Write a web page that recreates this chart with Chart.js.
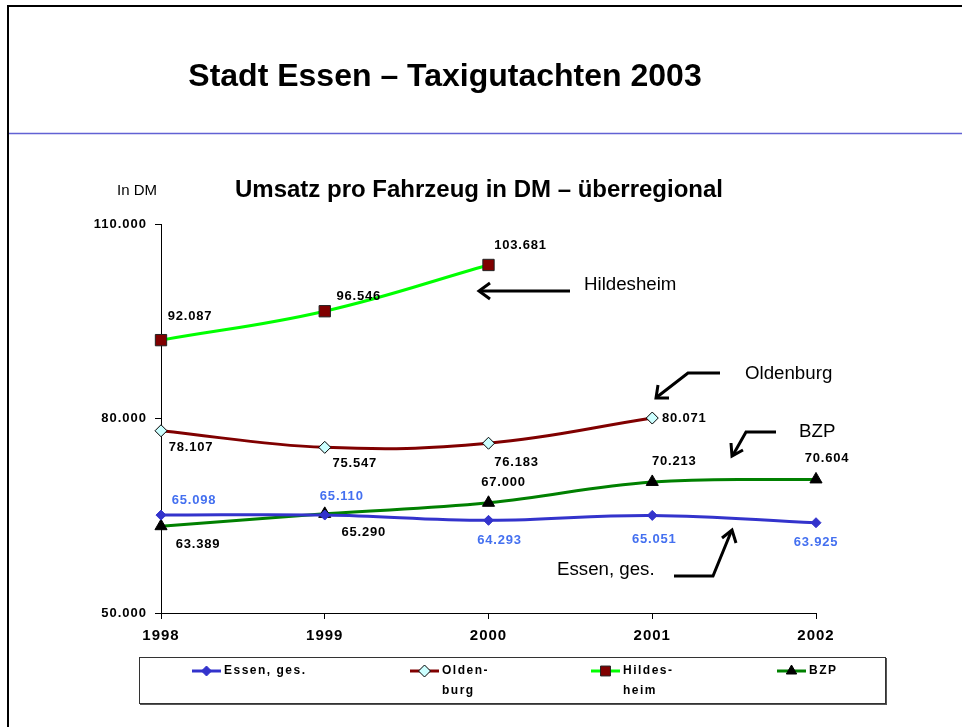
<!DOCTYPE html>
<html><head><meta charset="utf-8">
<script src="https://cdn.jsdelivr.net/npm/chart.js@4.4.1/dist/chart.umd.min.js"></script>
<style>
html,body{margin:0;padding:0;background:#fff;}
#wrap{position:relative;width:962px;height:727px;overflow:hidden;font-family:"Liberation Sans",Arial,sans-serif;background:#fff;}
#c{position:absolute;left:0;top:0;}
svg{position:absolute;left:0;top:0;}
.t{position:absolute;white-space:nowrap;line-height:1;transform:translate(-50%,-50%);color:#000;}
.l{position:absolute;white-space:nowrap;line-height:1;transform:translate(0,-50%);color:#000;}
</style></head><body>
<div id="wrap">
<canvas id="c" width="962" height="727"></canvas>
<svg width="962" height="727" viewBox="0 0 962 727">
  <line x1="8" y1="5" x2="8" y2="727" stroke="#000" stroke-width="2"/>
  <line x1="7" y1="6" x2="962" y2="6" stroke="#000" stroke-width="2"/>
  <line x1="9" y1="133.5" x2="962" y2="133.5" stroke="#6262d4" stroke-width="1.5"/>
  <g stroke="#000" stroke-width="3" fill="none" stroke-linecap="butt" stroke-linejoin="miter">
    <polyline points="570,291 479,291"/>
    <polyline points="490,283 479,291 490,299"/>
    <polyline points="720,373 688,373 657,397"/>
    <polyline points="658,385 656,398 669,398"/>
    <polyline points="776,432 746,432 733,455"/>
    <polyline points="731,443 732,456 743,450"/>
    <polyline points="674,576 713,576 731,532"/>
    <polyline points="722,538 732,530 736,543"/>
  </g>
</svg>
<div class="t" style="left:445px;top:75px;font-weight:bold;font-size:32px;">Stadt Essen – Taxigutachten 2003</div>
<div class="t" style="left:479px;top:189px;font-weight:bold;font-size:24px;">Umsatz pro Fahrzeug in DM – überregional</div>
<div class="l" style="left:117px;top:189px;font-size:15px;">In DM</div>
<div class="l" style="left:584px;top:284px;font-size:18.7px;">Hildesheim</div>
<div class="l" style="left:745px;top:373px;font-size:18.7px;">Oldenburg</div>
<div class="l" style="left:799px;top:431px;font-size:18.7px;">BZP</div>
<div class="l" style="left:557px;top:569px;font-size:18.7px;">Essen, ges.</div>
</div>
<script>
// ---- data ----
const years = ['1998', '1999', '2000', '2001', '2002'];
const seriesNames = ['Essen, ges.', 'Oldenburg', 'Hildesheim', 'BZP'];
const legendLines = [['Essen, ges.'], ['Olden-', 'burg'], ['Hildes-', 'heim'], ['BZP']];
const essen = [65098, 65110, 64293, 65051, 63925];
const oldenburg = [78107, 75547, 76183, 80071, null];
const hildesheim = [92087, 96546, 103681, null, null];
const bzp = [63389, 65290, 67000, 70213, 70604];
const yTickValues = [50000, 80000, 110000];

// ---- styles (label offsets relative to points) ----
const labelOffsets = [
  [[33, -15], [17, -19], [11, 20], [2, 24], [0, 20]],
  [[30, 17], [30, 16], [28, 19], [32, 0]],
  [[29, -24], [34, -15], [32, -20]],
  [[37, 18], [39, 19], [15, -20], [22, -21], [11, -21]]
];
const labelColors = ['#4470f0', '#000', '#000', '#000'];
const legendX = [192, 410, 591, 777];

const FONT = "'Liberation Sans', Arial, sans-serif";
function fmt(v) {
  return Math.floor(v / 1000) + '.' + String(v % 1000).padStart(3, '0');
}

const spacingPlugin = {
  id: 'spacing',
  beforeDraw(chart) { chart.ctx.letterSpacing = '1px'; },
  afterDraw(chart) { chart.ctx.letterSpacing = '0px'; }
};

const labelPlugin = {
  id: 'vlabels',
  afterDatasetsDraw(chart) {
    const ctx = chart.ctx;
    ctx.save();
    ctx.letterSpacing = '0.8px';
    ctx.font = 'bold 13px ' + FONT;
    ctx.textAlign = 'center';
    ctx.textBaseline = 'middle';
    chart.data.datasets.forEach((ds, i) => {
      const meta = chart.getDatasetMeta(i);
      meta.data.forEach((pt, j) => {
        const v = ds.data[j];
        if (v === null || v === undefined) return;
        const off = labelOffsets[i][j] || [0, -15];
        ctx.fillStyle = labelColors[i];
        ctx.fillText(fmt(v), pt.x + off[0], pt.y + off[1]);
      });
    });
    ctx.restore();
  }
};

const legendPlugin = {
  id: 'customLegend',
  afterDraw(chart) {
    const ctx = chart.ctx;
    ctx.save();
    ctx.letterSpacing = '1.5px';
    // shadow + box
    ctx.fillStyle = '#555';
    ctx.fillRect(140, 658, 747, 47);
    ctx.fillStyle = '#fff';
    ctx.fillRect(139, 657, 746, 46);
    ctx.strokeStyle = '#333';
    ctx.lineWidth = 1;
    ctx.strokeRect(139.5, 657.5, 746, 46);
    ctx.font = 'bold 12px ' + FONT;
    ctx.textAlign = 'left';
    ctx.textBaseline = 'middle';
    chart.data.datasets.forEach((ds, i) => {
      const x0 = legendX[i];
      const y = 671;
      ctx.strokeStyle = ds.borderColor;
      ctx.lineWidth = 3;
      ctx.beginPath();
      ctx.moveTo(x0, y);
      ctx.lineTo(x0 + 29, y);
      ctx.stroke();
      ctx.fillStyle = ds.pointBackgroundColor;
      ctx.strokeStyle = ds.pointBorderColor;
      ctx.lineWidth = ds.pointBorderWidth;
      Chart.helpers.drawPoint(ctx, {
        pointStyle: ds.pointStyle,
        radius: ds.legendRadius,
        rotation: 0,
        borderWidth: ds.pointBorderWidth
      }, x0 + 14.5, y);
      ctx.fillStyle = '#000';
      legendLines[i].forEach((line, k) => {
        ctx.fillText(line, x0 + 32, y + k * 20);
      });
    });
    ctx.restore();
  }
};

const datasets = [
  { label: seriesNames[0], data: essen, borderColor: '#3333cc', pointBackgroundColor: '#3333cc',
    pointBorderColor: '#3333cc', pointBorderWidth: 1, pointStyle: 'rectRot', pointRadius: 5, legendRadius: 5 },
  { label: seriesNames[1], data: oldenburg, borderColor: '#800000', pointBackgroundColor: '#ccffff',
    pointBorderColor: '#000', pointBorderWidth: 1, pointStyle: 'rectRot', pointRadius: 6, legendRadius: 6 },
  { label: seriesNames[2], data: hildesheim, borderColor: '#00ff00', pointBackgroundColor: '#800000',
    pointBorderColor: '#222', pointBorderWidth: 1, pointStyle: 'rect', pointRadius: 8, legendRadius: 7 },
  { label: seriesNames[3], data: bzp, borderColor: '#008000', pointBackgroundColor: '#000',
    pointBorderColor: '#000', pointBorderWidth: 1, pointStyle: 'triangle', pointRadius: 7, legendRadius: 6 }
].map(d => Object.assign({ borderWidth: 3, tension: 0.4, fill: false, clip: false, spanGaps: false,
  pointHoverRadius: d.pointRadius }, d));

new Chart(document.getElementById('c'), {
  type: 'line',
  data: { labels: years, datasets: datasets },
  options: {
    responsive: false,
    animation: false,
    events: [],
    layout: { padding: { left: 0, top: 224, right: 146, bottom: 0 } },
    plugins: { legend: { display: false }, title: { display: false }, tooltip: { enabled: false } },
    scales: {
      x: {
        type: 'category',
        offset: false,
        afterFit(s) { s.height = 114; },
        grid: { display: true, drawOnChartArea: false, drawTicks: true, tickLength: 6, color: '#000', lineWidth: 1 },
        border: { display: true, color: '#000', width: 1 },
        ticks: { color: '#000', font: { family: FONT, size: 15, weight: 'bold' }, padding: 8, maxRotation: 0, autoSkip: false }
      },
      y: {
        min: 50000, max: 110000,
        afterFit(s) { s.width = 161; },
        afterBuildTicks(s) { s.ticks = yTickValues.map(v => ({ value: v })); },
        grid: { display: true, drawOnChartArea: false, drawTicks: true, tickLength: 6, color: '#000', lineWidth: 1 },
        border: { display: true, color: '#000', width: 1 },
        ticks: { color: '#000', font: { family: FONT, size: 13, weight: 'bold' }, padding: 8,
          callback: (v) => fmt(v) }
      }
    }
  },
  plugins: [spacingPlugin, labelPlugin, legendPlugin]
});
</script>
</body></html>
